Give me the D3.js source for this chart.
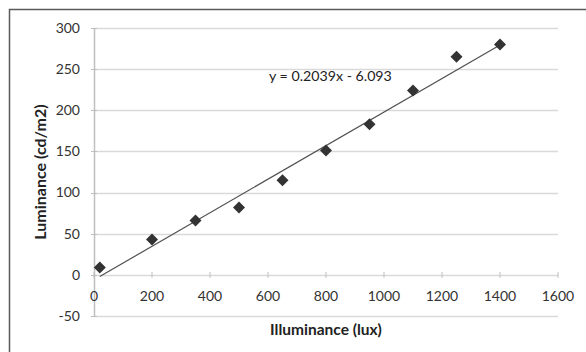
<!DOCTYPE html>
<html><head><meta charset="utf-8">
<script src="https://cdn.jsdelivr.net/npm/d3@7"></script>
<style>html,body{margin:0;padding:0;background:#fff;}svg{display:block;}</style>
</head><body>
<script>
const illuminance = [20, 200, 350, 500, 650, 800, 950, 1100, 1250, 1400];
const luminance = [9, 43, 66, 82, 115, 151, 183, 224, 265, 280];
const xTicks = [0, 200, 400, 600, 800, 1000, 1200, 1400, 1600];
const yTicks = [-50, 0, 50, 100, 150, 200, 250, 300];
const slope = 0.2039, intercept = -6.093;
const equationLabel = "y = 0.2039x - 6.093";
const xTitle = "Illuminance (lux)";
const yTitle = "Luminance (cd/m2)";

const W = 586, H = 352;
const font = "Lato, 'Open Sans', sans-serif";
const svg = d3.select("body").append("svg").attr("width", W).attr("height", H);

// outer chart border (top and left visible)
svg.append("path").attr("d", "M9.5,352 V9.5 H586").attr("fill", "none").attr("stroke", "#595959").attr("stroke-width", 1.5);

const x = d3.scaleLinear().domain([0, 1600]).range([94, 558]);
const y = d3.scaleLinear().domain([-50, 300]).range([316, 28]);

// gridlines
svg.append("g").selectAll("line").data(yTicks).join("line")
  .attr("x1", x(0)).attr("x2", x(1600))
  .attr("y1", d => Math.round(y(d)) + 0.5).attr("y2", d => Math.round(y(d)) + 0.5)
  .attr("stroke", "#d9d9d9").attr("stroke-width", 1.5);

// y axis line
svg.append("line").attr("x1", x(0) + 0.5).attr("x2", x(0) + 0.5)
  .attr("y1", y(300)).attr("y2", y(-50)).attr("stroke", "#bfbfbf").attr("stroke-width", 1.5);

// y tick marks
svg.append("g").selectAll("line").data(yTicks).join("line")
  .attr("x1", x(0) - 3).attr("x2", x(0) + 3)
  .attr("y1", d => Math.round(y(d)) + 0.5).attr("y2", d => Math.round(y(d)) + 0.5)
  .attr("stroke", "#bfbfbf").attr("stroke-width", 1);
// x tick marks on zero line
svg.append("g").selectAll("line").data(xTicks).join("line")
  .attr("x1", d => x(d)).attr("x2", d => x(d))
  .attr("y1", y(0) - 3).attr("y2", y(0) + 3)
  .attr("stroke", "#bfbfbf").attr("stroke-width", 1);

// y tick labels
svg.append("g").selectAll("text").data(yTicks).join("text")
  .attr("x", 80).attr("y", d => y(d)).attr("dy", "0.35em")
  .attr("text-anchor", "end").attr("font-family", font).attr("font-size", 14)
  .attr("fill", "#333333").text(d => d);

// x tick labels
svg.append("g").selectAll("text").data(xTicks).join("text")
  .attr("x", d => x(d)).attr("y", 296).attr("dy", "0.35em")
  .attr("text-anchor", "middle").attr("font-family", font).attr("font-size", 14)
  .attr("fill", "#333333").text(d => d);

// trendline
const xs = d3.extent(illuminance);
svg.append("line")
  .attr("x1", x(xs[0])).attr("y1", y(slope * xs[0] + intercept))
  .attr("x2", x(xs[1])).attr("y2", y(slope * xs[1] + intercept))
  .attr("stroke", "#505050").attr("stroke-width", 1.2);

// markers
const diamond = d3.symbol().type(d3.symbolSquare).size(72);
svg.append("g").selectAll("path").data(illuminance.map((v, i) => [v, luminance[i]])).join("path")
  .attr("d", diamond)
  .attr("transform", d => `translate(${x(d[0])},${y(d[1])}) rotate(45)`)
  .attr("fill", "#333333");

// equation
svg.append("text").attr("x", 269).attr("y", 76).attr("dy", "0.35em")
  .attr("font-family", font).attr("font-size", 14.2).attr("fill", "#222222")
  .text(equationLabel);

// axis titles
svg.append("text").attr("x", 326).attr("y", 330).attr("dy", "0.35em")
  .attr("text-anchor", "middle").attr("font-family", font).attr("font-size", 15.5)
  .attr("font-weight", "bold").attr("fill", "#222222").text(xTitle);
svg.append("text").attr("transform", "translate(40,172) rotate(-90)").attr("dy", "0.35em")
  .attr("text-anchor", "middle").attr("font-family", font).attr("font-size", 16)
  .attr("font-weight", "bold").attr("fill", "#222222").text(yTitle);
</script>
</body></html>
